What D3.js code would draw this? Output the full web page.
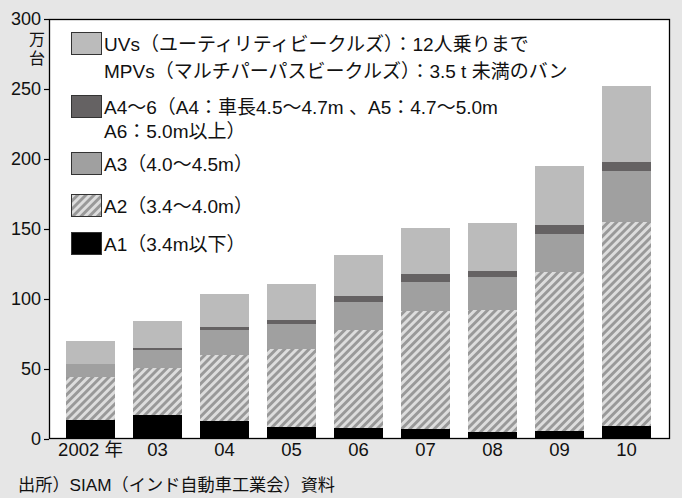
<!DOCTYPE html>
<html>
<head>
<meta charset="utf-8">
<script src="https://cdn.jsdelivr.net/npm/d3@7/dist/d3.min.js"></script>
<style>
  html, body { margin: 0; padding: 0; background: #e6e6e6; }
  svg { display: block; }
  text { font-family: "Liberation Sans", "Noto Sans CJK JP", sans-serif; fill: #111; }
</style>
</head>
<body>
<svg id="chart" width="682" height="498"></svg>
<script>
// Indian passenger vehicle sales by segment (10,000 units)
const years = ["2002 年", "03", "04", "05", "06", "07", "08", "09", "10"];
const a1  = [13.6, 17.1, 12.9,  8.6,  7.9,  7.1,  5.0,   5.7,   9.3];
const a2  = [30.7, 33.8, 47.1, 55.7, 70.0, 84.3, 87.1, 113.6, 145.7];
const a3  = [ 9.3, 12.7, 17.9, 17.8, 20.0, 20.7, 23.6,  27.1,  36.4];
const a46 = [ 0.0,  1.4,  2.1,  2.9,  4.2,  5.8,  4.3,   6.5,   6.5];
const uvs = [16.4, 19.3, 23.6, 25.7, 29.3, 32.8, 34.3,  42.1,  54.2];
const yTicks = [0, 50, 100, 150, 200, 250, 300];

const seriesKeys = ["a1", "a2", "a3", "a46", "uvs"];
const seriesValues = { a1, a2, a3, a46, uvs };
const seriesFill = { a1: "#000000", a2: "url(#hatch)", a3: "#a0a0a0", a46: "#656263", uvs: "#bbbbbb" };

const legendItems = [
  { key: "uvs", lines: ["UVs（ユーティリティビークルズ）：12人乗りまで", "MPVs（マルチパーパスビークルズ）：3.5 t 未満のバン"] },
  { key: "a46", lines: ["A4〜6（A4：車長4.5〜4.7m 、A5：4.7〜5.0m", "A6：5.0m以上）"] },
  { key: "a3",  lines: ["A3（4.0〜4.5m）"] },
  { key: "a2",  lines: ["A2（3.4〜4.0m）"] },
  { key: "a1",  lines: ["A1（3.4m以下）"] }
];

const svg = d3.select("#chart");
const plot = { left: 49, top: 19, right: 670, bottom: 439 };
const tickFont = "'Liberation Sans', 'Noto Sans CJK JP', sans-serif";

// diagonal stripe pattern for the A2 segment
const defs = svg.append("defs");
const pat = defs.append("pattern")
  .attr("id", "hatch")
  .attr("patternUnits", "userSpaceOnUse")
  .attr("width", 5.8).attr("height", 5.8)
  .attr("patternTransform", "rotate(45)");
pat.append("rect").attr("width", 5.8).attr("height", 5.8).attr("fill", "#dddddd");
pat.append("rect").attr("width", 2.9).attr("height", 5.8).attr("fill", "#999999");

// plot background
svg.append("rect")
  .attr("x", plot.left).attr("y", plot.top)
  .attr("width", plot.right - plot.left).attr("height", plot.bottom - plot.top)
  .attr("fill", "#ffffff");

const x = d3.scaleBand()
  .domain(years)
  .range([57, 660])
  .paddingInner(18 / 67)
  .paddingOuter(0.1343);

const y = d3.scaleLinear().domain([0, 300]).range([plot.bottom, plot.top]);

const rows = years.map((yr, i) => {
  const r = { year: yr };
  seriesKeys.forEach(k => { r[k] = seriesValues[k][i]; });
  return r;
});
const stacked = d3.stack().keys(seriesKeys)(rows);

svg.append("g").selectAll("g")
  .data(stacked)
  .join("g")
  .attr("fill", d => seriesFill[d.key])
  .selectAll("rect")
  .data(d => d)
  .join("rect")
  .attr("x", d => x(d.data.year))
  .attr("width", x.bandwidth())
  .attr("y", d => y(d[1]))
  .attr("height", d => y(d[0]) - y(d[1]))
  .attr("shape-rendering", "crispEdges");

// frame
svg.append("rect")
  .attr("x", plot.left + 0.5).attr("y", plot.top + 0.5)
  .attr("width", plot.right - plot.left - 1).attr("height", plot.bottom - plot.top - 1)
  .attr("fill", "none").attr("stroke", "#000").attr("stroke-width", 1.3);

// y axis
const yAxis = svg.append("g")
  .attr("transform", `translate(${plot.left},0)`)
  .call(d3.axisLeft(y).tickValues(yTicks).tickSize(5).tickPadding(3).tickFormat(d3.format("d")));
yAxis.select(".domain").remove();
yAxis.selectAll(".tick line").attr("stroke", "#000").attr("stroke-width", 1.2);
yAxis.selectAll(".tick text")
  .style("font-family", tickFont)
  .style("font-size", "18px").attr("fill", "#111");

// unit label, stacked vertically
[["万", 39], ["台", 58]].forEach(([ch, cy]) => {
  svg.append("text")
    .attr("x", 37).attr("y", cy)
    .attr("dy", "0.35em")
    .attr("text-anchor", "middle")
    .style("font-size", "16px")
    .text(ch);
});

// x axis labels
const xAxis = svg.append("g")
  .attr("transform", `translate(0,${plot.bottom})`)
  .call(d3.axisBottom(x).tickSize(0).tickPadding(4));
xAxis.select(".domain").remove();
xAxis.selectAll(".tick text")
  .style("font-family", tickFont)
  .style("font-size", "18.5px").attr("fill", "#111");

// legend
const legendRows = [44, 107, 164, 206, 244];
const secondLineGap = [27, 24];
const lg = svg.append("g");
legendItems.forEach((item, i) => {
  const cy = legendRows[i];
  lg.append("rect")
    .attr("x", 71.5).attr("y", cy - 11.5)
    .attr("width", 30).attr("height", 22)
    .attr("fill", seriesFill[item.key])
    .attr("stroke", "#333").attr("stroke-width", 1);
  item.lines.forEach((line, j) => {
    lg.append("text")
      .attr("x", 104).attr("y", cy + j * (secondLineGap[i] || 0))
      .attr("dy", "0.35em")
      .style("font-size", "19px")
      .text(line);
  });
});

// source note
svg.append("text")
  .attr("x", 18).attr("y", 485)
  .attr("dy", "0.35em")
  .style("font-size", "17.2px")
  .attr("fill", "#333")
  .text("出所）SIAM（インド自動車工業会）資料");
</script>
</body>
</html>
